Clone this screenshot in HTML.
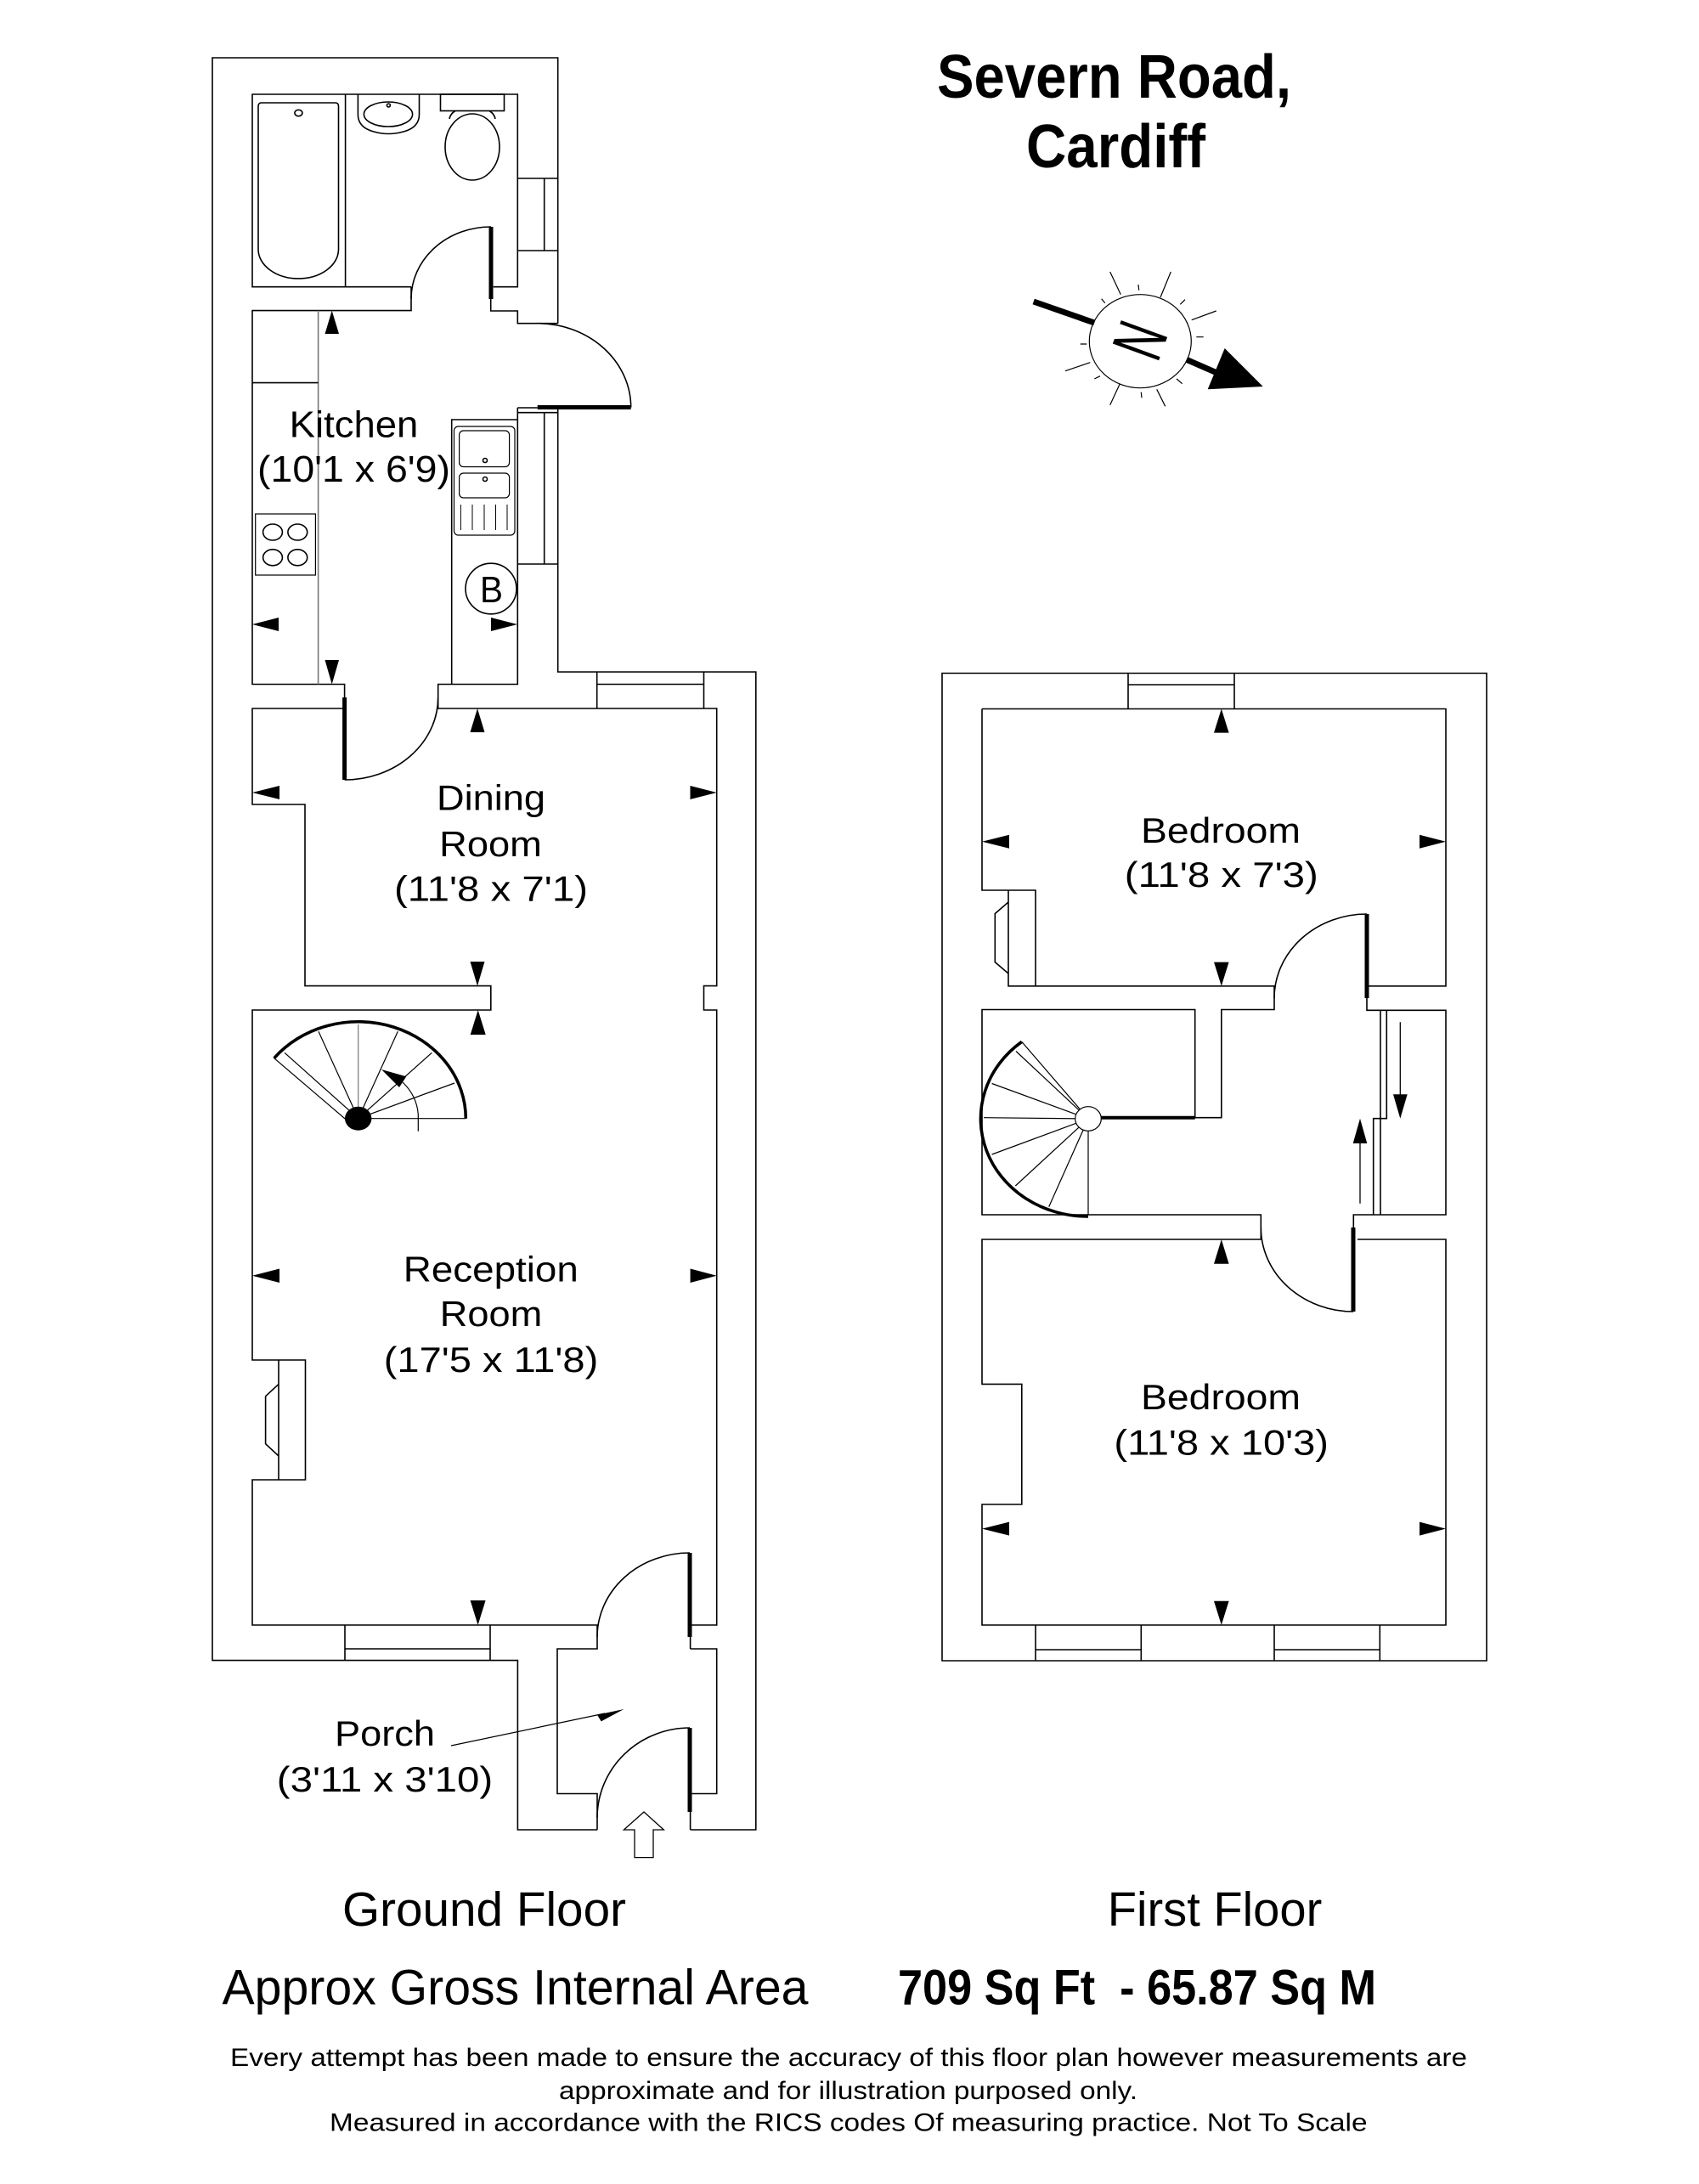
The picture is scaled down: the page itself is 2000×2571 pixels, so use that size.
<!DOCTYPE html>
<html><head><meta charset="utf-8"><style>
html,body{margin:0;padding:0;background:#fff;}
svg{display:block;}
text{font-family:"Liberation Sans",Arial,sans-serif;fill:#000;stroke:none;}
</style></head><body>
<svg width="2000" height="2571" viewBox="0 0 2000 2571" xmlns="http://www.w3.org/2000/svg">
<rect x="0" y="0" width="2000" height="2571" fill="#fff"/>

<!-- ================= GROUND FLOOR ================= -->
<g fill="none" stroke="#000" stroke-width="1.6">
  <path d="M656.7,380.7 V68 H250 V1954.6 H609.4 V2154 H703"/>
  <path d="M812.6,2154 H889.8 V791 H656.7 V482"/>
  <path d="M484,337.7 H297 V111 H609.3 V337.7 H580.7"/>
  <path d="M484,337.7 V365.6 H297 V805.5 H405.6 V821"/>
  <path d="M577.7,351.7 V366 H609.3 V380.7 H656.7"/>
  <path d="M484,351.7 A93.8,84.7 0 0,1 578,267"/>
  <path d="M609.3,210 H656.7 M609.3,295 H656.7 M640.7,210 V295"/>
  <path d="M632.7,380.7 A110,99 0 0,1 742.7,479.5"/>
  <path d="M609.3,480 H632.7"/>
  <path d="M609.3,480 V805.5 H515.7 V834 H843.7 V1160.6 H828.5 V1189 H843.7 V1913 H812.6"/>
  <path d="M515.7,821 A110,97 0 0,1 405.6,918"/>
  <path d="M609.3,485.7 H656.7 M609.3,664 H656.7 M640.7,485.7 V664"/>
  <path d="M405.6,834 H297 V947 H359 V1160.6 H577.8 V1189 H297 V1601 H359.5 V1742 H297 V1913 H703 V1941 H656 V2111.5 H703 V2154"/>
  <path d="M812.6,1941 H843.7 V2111.5 H812.6"/>
  <path d="M812.6,1927 V1941 M812.6,2133 V2154"/>
  <path d="M703,1927 A109,99 0 0,1 812,1828"/>
  <path d="M703,2140 A109,106 0 0,1 812,2034"/>
  <path d="M702.7,791 V834 M828.5,791 V834 M702.7,805.5 H828.5"/>
  <path d="M406,1913 V1954.6 M577,1913 V1954.6 M406,1941 H577"/>
  <path d="M328,1601 V1742"/>
  <path d="M328,1629.4 L312.6,1643.7 V1699.7 L328,1714"/>

  <path d="M406.6,111 V337.7"/>
  <path d="M304,293.5 V125 Q304,121 308,121 H394.5 Q398.5,121 398.5,125 V293.5 A47.25,34.5 0 0,1 304,293.5 Z"/>
  <ellipse cx="351.4" cy="133" rx="4.5" ry="3.7"/>
  <path d="M421.4,111 V135 Q421.4,150 440,155 Q457,160 475,155 Q493.5,150 493.5,135 V111"/>
  <ellipse cx="457" cy="134.5" rx="28.6" ry="14.5"/>
  <circle cx="457.4" cy="124" r="2"/>
  <rect x="518.5" y="111" width="75" height="19.5"/>
  <path d="M536,130.5 Q530,134 529,140 M576,130.5 Q582,134 583,140"/>
  <ellipse cx="556" cy="173" rx="32" ry="39"/>

  <path d="M374.6,365.6 V805.5" stroke="#777"/>
  <path d="M297,450.6 H374.6"/>
  <rect x="300.7" y="605" width="70.7" height="72" stroke-width="1.2"/>
  <ellipse cx="321" cy="626.5" rx="11.4" ry="9.5"/>
  <ellipse cx="350.3" cy="626.5" rx="11.4" ry="9.5"/>
  <ellipse cx="321" cy="656.3" rx="11.4" ry="9.5"/>
  <ellipse cx="350.3" cy="656.3" rx="11.4" ry="9.5"/>
  <path d="M531.7,805.5 V494 H609.3"/>
  <rect x="534.5" y="502" width="71.5" height="128" rx="5" stroke-width="1.2"/>
  <rect x="540.6" y="507" width="59" height="42.5" rx="5" stroke-width="1.2"/>
  <rect x="540.6" y="557" width="59" height="29" rx="5" stroke-width="1.2"/>
  <circle cx="571" cy="542" r="2.5"/>
  <circle cx="571" cy="564" r="2.5"/>
  <path d="M542.4,594 V624 M556,594 V624 M570,594 V624 M583.5,594 V624 M597,594 V624" stroke-width="1"/>
  <ellipse cx="578" cy="693" rx="30" ry="29.8"/>

  <path d="M322.7,1245.7 A126.6,114 0 0,1 548.3,1316.7" stroke-width="3.6"/>
  <path d="M322.7,1245.7 L412,1322 M335,1239.3 L421.7,1316.7 M375,1214.3 L421.7,1316.7 M468.3,1214.3 L421.7,1316.7 M508.3,1239.3 L421.7,1316.7 M535,1275 L421.7,1316.7 M548.3,1316.7 L421.7,1316.7" stroke-width="1.2"/>
  <path d="M421.7,1206 V1316.7" stroke="#777" stroke-width="1.2"/>
  <path d="M492.3,1331.7 V1312 A70,62 0 0,0 474,1274" stroke-width="1.2"/>

  <path d="M531,2055 L712,2017" stroke-width="1.2"/>
</g>
<g fill="#000" stroke="none">
  <rect x="575.5" y="267" width="5" height="85"/>
  <rect x="632.7" y="477" width="110" height="5"/>
  <rect x="403.1" y="821" width="5" height="97"/>
  <rect x="809.5" y="1828" width="5" height="99"/>
  <rect x="809.5" y="2034" width="5" height="99"/>
  <ellipse cx="421.7" cy="1316.7" rx="15.7" ry="14"/>
  <polygon points="449,1259 478.3,1267.3 470,1280"/>
  <polygon points="734.4,2012 703,2018.8 707.7,2026.4"/>
  <polygon points="390.7,365.6 382.5,393 399,393"/>
  <polygon points="390.7,805.5 382.5,777 399,777"/>
  <polygon points="297,735 328,727 328,743"/>
  <polygon points="609,735 578,727 578,743"/>
  <polygon points="562,834 553.5,862 570.5,862"/>
  <polygon points="297,933 329,925 329,941"/>
  <polygon points="843.7,933 812.5,925 812.5,941"/>
  <polygon points="562,1160.6 553.5,1132 570.5,1132"/>
  <polygon points="562.7,1189 553.7,1218 571.7,1218"/>
  <polygon points="297,1501.7 329,1493.5 329,1510"/>
  <polygon points="843.7,1501.7 812.6,1493.5 812.6,1510"/>
  <polygon points="562.6,1913 553.6,1884 571.6,1884"/>
</g>
<polygon points="758,2133 781.3,2154 769,2154 769,2186.6 747,2186.6 747,2154 734.4,2154" fill="#fff" stroke="#000" stroke-width="1.3"/>

<!-- ================= FIRST FLOOR ================= -->
<g fill="none" stroke="#000" stroke-width="1.6">
  <path d="M1109,792.5 H1750 V1955 H1109 Z"/>
  <path d="M1328,792.5 V834.5 M1453,792.5 V834.5 M1328,806 H1453"/>
  <path d="M1156,834.5 V1048 H1219 V1160.8"/>
  <path d="M1187,1048 V1160.8 H1500 V1188.5 H1437.8 V1315.7 H1406.7 V1188.5 H1156 V1430 H1484.3 V1459 H1156 V1629.4 H1202.8 V1771 H1156 V1913 H1702 V1459 H1598"/>
  <path d="M1156,834.5 H1702 V1160.8 H1611"/>
  <path d="M1609,1175 V1189.3 H1702 V1430 H1593.3 V1445"/>
  <path d="M1187,1062 L1171.3,1075.5 V1132.6 L1187,1146"/>
  <path d="M1500,1175 A109,99 0 0,1 1609,1076"/>
  <path d="M1484.3,1445 A109,99 0 0,0 1593,1544"/>
  <path d="M1625,1189.3 V1430 M1632.3,1189.3 V1316.7 H1616.7 V1430"/>
  <path d="M1648.3,1203.3 V1295 M1601,1416.7 V1340" stroke-width="1.3"/>
  <path d="M1219,1913 V1955 M1343.3,1913 V1955 M1219,1942 H1343.3"/>
  <path d="M1500,1913 V1955 M1624.3,1913 V1955 M1500,1942 H1624.3"/>
  <path d="M1202.8,1226.4 A126,115 0 0,0 1281,1432" stroke-width="3.6"/>
  <path d="M1294.8,1315.7 H1406.7" stroke-width="4"/>
  <path d="M1281,1317 L1202.8,1226.4 M1281,1317 L1196,1237.5 M1281,1317 L1167.6,1275.5 M1281,1317 L1158,1315.7 M1281,1317 L1167.6,1359 M1281,1317 L1195.3,1396 M1281,1317 L1234.7,1420.6 M1281,1317 L1281,1430" stroke-width="1.2"/>
  <ellipse cx="1281" cy="1317" rx="15.3" ry="14.3" fill="#fff" stroke-width="1.2"/>
</g>
<g fill="#000" stroke="none">
  <rect x="1606.5" y="1076" width="5" height="99"/>
  <rect x="1590.5" y="1445" width="5" height="99"/>
  <polygon points="1648.3,1316.7 1640,1288.3 1656.7,1288.3"/>
  <polygon points="1601,1316.7 1592.7,1346 1609.3,1346"/>
  <polygon points="1437.8,834.5 1429,862.6 1446.6,862.6"/>
  <polygon points="1156,990.7 1188,982.7 1188,998.7"/>
  <polygon points="1702,990.7 1671,982.7 1671,998.7"/>
  <polygon points="1437.8,1160.8 1429,1132.6 1446.6,1132.6"/>
  <polygon points="1437.8,1459 1429,1487.7 1446.6,1487.7"/>
  <polygon points="1156,1799.6 1188,1791.6 1188,1807.6"/>
  <polygon points="1702,1799.6 1671,1791.6 1671,1807.6"/>
  <polygon points="1437.8,1913 1429,1884.7 1446.6,1884.7"/>
</g>

<!-- ================= COMPASS ================= -->
<g fill="none" stroke="#000" stroke-width="1.2">
  <ellipse cx="1342.3" cy="401.7" rx="60" ry="55"/>
  <path d="M1306.7,320 L1319.3,346.7 M1378.3,320 L1366,350 M1431.7,366 L1402.7,376.7 M1254,436.7 L1283.3,426.7 M1306.7,476.7 L1318.3,451.7 M1371.7,478.3 L1361.7,458.3"/>
  <path d="M1340,335 L1340.7,341.7 M1296.7,351.7 L1300.7,356.7 M1395,352.7 L1389.3,358.3 M1408.3,396.7 L1416.7,396.7 M1271.7,405 L1279.3,405 M1288.3,446 L1295,442.7 M1385,446 L1391.7,451.7 M1343.3,461.7 L1344,468.3"/>
  <path d="M1216.7,355 L1288.3,380" stroke-width="7"/>
  <path d="M1396.7,423.3 L1433.3,439.3" stroke-width="7"/>
</g>
<polygon points="1441.7,410 1486.7,455 1421.7,458.3" fill="#000"/>
<text x="0" y="30" font-size="84" text-anchor="middle" transform="translate(1343,401) rotate(110) scale(0.62,1)">N</text>

<!-- ================= TEXT ================= -->
<g font-weight="bold" font-size="72" text-anchor="middle">
  <text x="1311.5" y="115" textLength="417" lengthAdjust="spacingAndGlyphs">Severn Road,</text>
  <text x="1313.5" y="197" textLength="211" lengthAdjust="spacingAndGlyphs">Cardiff</text>
</g>

<g font-size="42" text-anchor="middle">
  <text x="416.5" y="514.7" font-size="44" textLength="151.7" lengthAdjust="spacingAndGlyphs">Kitchen</text>
  <text x="416.5" y="567" font-size="44" textLength="227" lengthAdjust="spacingAndGlyphs">(10'1 x 6'9)</text>
  <text x="578" y="953.5" textLength="128" lengthAdjust="spacingAndGlyphs">Dining</text>
  <text x="577.5" y="1008" textLength="120.7" lengthAdjust="spacingAndGlyphs">Room</text>
  <text x="578" y="1060.6" textLength="228" lengthAdjust="spacingAndGlyphs">(11'8 x 7'1)</text>
  <text x="577.8" y="1508.4" textLength="206" lengthAdjust="spacingAndGlyphs">Reception</text>
  <text x="578" y="1561" textLength="120.5" lengthAdjust="spacingAndGlyphs">Room</text>
  <text x="578" y="1615" textLength="252.5" lengthAdjust="spacingAndGlyphs">(17'5 x 11'8)</text>
  <text x="453" y="2055" textLength="118" lengthAdjust="spacingAndGlyphs">Porch</text>
  <text x="453" y="2109" textLength="254.4" lengthAdjust="spacingAndGlyphs">(3'11 x 3'10)</text>
  <text x="1437" y="992" textLength="188" lengthAdjust="spacingAndGlyphs">Bedroom</text>
  <text x="1437.8" y="1044" textLength="228" lengthAdjust="spacingAndGlyphs">(11'8 x 7'3)</text>
  <text x="1437" y="1659" textLength="188" lengthAdjust="spacingAndGlyphs">Bedroom</text>
  <text x="1437.7" y="1712.6" textLength="252.6" lengthAdjust="spacingAndGlyphs">(11'8 x 10'3)</text>
  <text x="578.5" y="709" font-size="44" textLength="27" lengthAdjust="spacingAndGlyphs">B</text>
</g>

<g font-size="57" text-anchor="middle">
  <text x="570" y="2267" textLength="334" lengthAdjust="spacingAndGlyphs">Ground Floor</text>
  <text x="1430" y="2267" textLength="252.5" lengthAdjust="spacingAndGlyphs">First Floor</text>
  <text x="606.5" y="2359.6" font-size="58" textLength="690" lengthAdjust="spacingAndGlyphs">Approx Gross Internal Area</text>
  <text x="1338.5" y="2359.6" font-size="58" font-weight="bold" textLength="563" lengthAdjust="spacingAndGlyphs" style="white-space:pre">709 Sq Ft  - 65.87 Sq M</text>
</g>

<g font-size="30" text-anchor="middle">
  <text x="999" y="2432" textLength="1456" lengthAdjust="spacingAndGlyphs">Every attempt has been made to ensure the accuracy of this floor plan however measurements are</text>
  <text x="998.5" y="2471" textLength="681" lengthAdjust="spacingAndGlyphs">approximate and for illustration purposed only.</text>
  <text x="998.8" y="2508.6" textLength="1221.5" lengthAdjust="spacingAndGlyphs">Measured in accordance with the RICS codes Of measuring practice. Not To Scale</text>
</g>
</svg>
</body></html>
